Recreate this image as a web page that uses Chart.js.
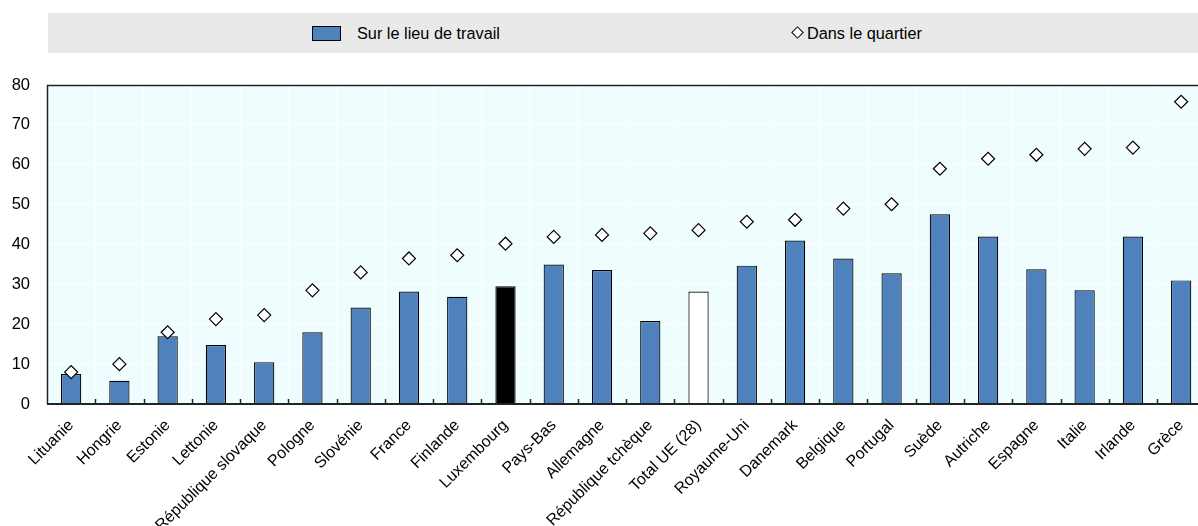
<!DOCTYPE html>
<html>
<head>
<meta charset="utf-8">
<script src="https://cdn.jsdelivr.net/npm/chart.js@4/dist/chart.umd.min.js"></script>
<style>
  html, body { margin: 0; padding: 0; background: #ffffff; overflow: hidden; }
  #wrap { position: relative; width: 1198px; height: 526px; overflow: hidden; font-family: "Liberation Sans", Arial, sans-serif; }
  #legend { position: absolute; left: 48px; top: 13px; width: 1150px; height: 40px; background: #e9e9e9; }
  .item { position: absolute; top: 0; height: 40px; line-height: 40px; font-size: 16.3px; color: #000; white-space: nowrap; }
  .swatch { position: absolute; left: 0; top: 13px; width: 27px; height: 13px; background: #4f81bd; border: 1px solid #000; }
  .dia { position: absolute; left: 1px; top: 15px; width: 7px; height: 7px; background: #fff; border: 1.2px solid #000; transform: rotate(45deg); }
  canvas { position: absolute; left: 0; top: 0; }
</style>
</head>
<body>
<div id="wrap">
  <div id="legend">
    <div class="item" style="left:264px;"><span class="swatch"></span><span style="position:absolute;left:45px;">Sur le lieu de travail</span></div>
    <div class="item" style="left:744px;"><span class="dia"></span><span style="position:absolute;left:15px;">Dans le quartier</span></div>
  </div>
  <canvas id="c" width="1213" height="526"></canvas>
</div>
<script>
const categories = ["Lituanie","Hongrie","Estonie","Lettonie","République slovaque","Pologne","Slovénie","France","Finlande","Luxembourg","Pays-Bas","Allemagne","République tchèque","Total UE (28)","Royaume-Uni","Danemark","Belgique","Portugal","Suède","Autriche","Espagne","Italie","Irlande","Grèce"];
const lieuTravail = [7.5,5.8,17.0,14.8,10.5,18.0,24.2,28.2,26.9,29.5,35.0,33.6,20.8,28.2,34.7,41.0,36.5,32.8,47.6,42.0,33.8,28.5,42.0,31.0];
const quartier = [8.0,10.0,18.0,21.3,22.3,28.5,33.0,36.5,37.3,40.2,41.9,42.4,42.8,43.6,45.7,46.2,49.0,50.1,59.0,61.5,62.5,64.0,64.3,75.8];
const yTicks = [0,10,20,30,40,50,60,70,80];

const barColors = categories.map(c => c === "Luxembourg" ? "#000000" : (c === "Total UE (28)" ? "#ffffff" : "#4f81bd"));

const areaPlugin = {
  id: 'areaPlugin',
  beforeDraw(chart) {
    const {ctx, chartArea: a} = chart;
    ctx.save();
    ctx.fillStyle = '#f0fdff';
    ctx.fillRect(a.left, a.top, a.right - a.left, a.bottom - a.top);
    ctx.restore();
  },
  afterDatasetsDraw(chart) {
    const {ctx, chartArea: a, scales} = chart;
    ctx.save();
    ctx.strokeStyle = '#222';
    ctx.lineWidth = 1.5;
    ctx.beginPath();
    ctx.moveTo(a.left, a.top + 0.5); ctx.lineTo(a.right, a.top + 0.5);
    ctx.moveTo(a.left + 0.5, a.top); ctx.lineTo(a.left + 0.5, a.bottom);
    ctx.stroke();
    ctx.lineWidth = 2;
    ctx.beginPath();
    ctx.moveTo(a.left, a.bottom); ctx.lineTo(a.right, a.bottom);
    ctx.stroke();
    const x = scales.x;
    ctx.lineWidth = 1.5;
    ctx.beginPath();
    for (let i = 1; i < categories.length; i++) {
      const px = Math.round((x.getPixelForValue(i - 1) + x.getPixelForValue(i)) / 2) + 0.5;
      ctx.moveTo(px, a.bottom); ctx.lineTo(px, a.bottom - 5);
    }
    ctx.stroke();
    ctx.restore();
  }
};

new Chart(document.getElementById('c'), {
  data: {
    labels: categories,
    datasets: [
      {
        type: 'line',
        label: 'Dans le quartier',
        data: quartier,
        showLine: false,
        pointStyle: 'rectRot',
        pointRadius: 6.5,
        pointHoverRadius: 6.5,
        pointBackgroundColor: '#ffffff',
        pointBorderColor: '#000000',
        pointBorderWidth: 1.2,
        order: 0
      },
      {
        type: 'bar',
        label: 'Sur le lieu de travail',
        data: lieuTravail,
        backgroundColor: barColors,
        borderColor: '#000000',
        borderWidth: 1.2,
        borderSkipped: 'bottom',
        categoryPercentage: 1,
        barPercentage: 0.42,
        order: 1
      }
    ]
  },
  options: {
    responsive: false,
    animation: false,
    layout: { padding: { top: 85, right: 3, left: 0, bottom: 0 } },
    plugins: { legend: { display: false }, tooltip: { enabled: false } },
    scales: {
      x: {
        offset: true,
        grid: { display: true, offset: true, color: '#ffffff', lineWidth: 1, drawTicks: false },
        border: { display: false },
        ticks: {
          color: '#000',
          font: { family: '"Liberation Sans", Arial, sans-serif', size: 16 },
          minRotation: 45, maxRotation: 45, autoSkip: false, padding: 12, labelOffset: 0
        },
        afterFit(s) { s.height = 122; }
      },
      y: {
        min: 0, max: 80,
        afterBuildTicks(s) { s.ticks = yTicks.map(v => ({ value: v })); },
        grid: { color: '#ffffff', lineWidth: 1, drawTicks: false },
        border: { display: false },
        ticks: {
          color: '#000',
          font: { family: '"Liberation Sans", Arial, sans-serif', size: 16.5 },
          padding: 17
        },
        afterFit(s) { s.width = 47; }
      }
    }
  },
  plugins: [areaPlugin]
});
</script>
</body>
</html>
